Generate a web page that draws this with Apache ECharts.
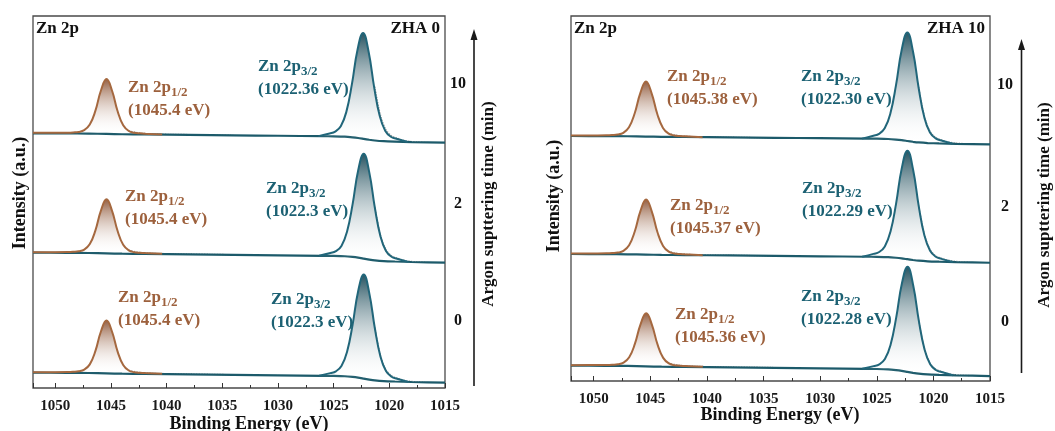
<!DOCTYPE html>
<html>
<head>
<meta charset="utf-8">
<script src="https://cdn.jsdelivr.net/npm/echarts@6/dist/echarts.min.js"></script>
<style>
  html, body { margin: 0; padding: 0; background: #ffffff; }
  #chart { width: 1055px; height: 431px; }
</style>
</head>
<body>
<div id="chart"></div>
<script>
// ---------------- data ----------------
const samples = ['ZHA 0', 'ZHA 10'];
const sputterTimes = ['0', '2', '10'];            // min, bottom to top
const energyTickLabels = [1050, 1045, 1040, 1035, 1030, 1025, 1020, 1015];

// Shirley background sampling energies (eV)
const bgEnergy = [1052, 1049, 1047, 1045.4, 1044, 1042, 1038, 1034, 1030, 1026, 1025,
                  1024, 1023.3, 1022.8, 1022.3, 1021.8, 1021.3, 1020.5, 1019.5, 1018, 1015];
// raw counts sampling energies (gap between the two recorded windows)
const rawEnergy = [1043.4, 1042.4, 1041, 1039.5, 1038, 1036, 1034, 1028,
                   1021.3, 1020.8, 1020.3, 1019.8, 1019.3, 1018.8, 1018.2, 1017.5, 1016.8];

// ---- ZHA 0, 0 min ----
const zha0_t0_bg = [0.1275, 0.1265, 0.125, 0.122, 0.119, 0.1177, 0.1137, 0.1097, 0.1057, 0.1017, 0.1007,
                    0.098, 0.092, 0.086, 0.078, 0.07, 0.0635, 0.0575, 0.054, 0.05, 0.044];
const zha0_t0_p12E = [1052, 1050, 1048.9, 1048.4, 1047.9, 1047.4, 1046.9, 1046.4, 1045.9, 1045.4,
                      1044.9, 1044.4, 1043.9, 1043.4, 1042.9, 1042.4, 1041.9, 1040.4];
const zha0_t0_p12 = [0.132, 0.132, 0.133, 0.135, 0.139, 0.153, 0.197, 0.307, 0.471, 0.562,
                     0.469, 0.303, 0.192, 0.146, 0.132, 0.127, 0.124, 0.118];
const zha0_t0_p32E = [1026.3, 1025.3, 1024.8, 1024.3, 1023.8, 1023.3, 1022.8, 1022.3,
                      1021.8, 1021.3, 1020.8, 1020.3, 1019.8, 1019.3, 1018.3];
const zha0_t0_p32 = [0.102, 0.124, 0.139, 0.183, 0.300, 0.526, 0.807, 0.945,
                     0.791, 0.498, 0.263, 0.141, 0.094, 0.077, 0.051];
const zha0_t0_raw = [0.148, 0.130, 0.121, 0.119, 0.117, 0.114, 0.111, '-',
                     0.505, 0.275, 0.152, 0.103, 0.083, 0.068, 0.057, 0.052, 0.048];

// ---- ZHA 0, 2 min ----
const zha0_t2_bg = [0.1275, 0.1265, 0.125, 0.122, 0.119, 0.1177, 0.1137, 0.1097, 0.1057, 0.1017, 0.1007,
                    0.098, 0.092, 0.086, 0.078, 0.07, 0.0635, 0.0575, 0.054, 0.05, 0.044];
const zha0_t2_p12E = [1052, 1050, 1048.9, 1048.4, 1047.9, 1047.4, 1046.9, 1046.4, 1045.9, 1045.4,
                      1044.9, 1044.4, 1043.9, 1043.4, 1042.9, 1042.4, 1041.9, 1040.4];
const zha0_t2_p12 = [0.132, 0.132, 0.133, 0.135, 0.139, 0.153, 0.199, 0.312, 0.478, 0.572,
                     0.476, 0.308, 0.193, 0.147, 0.132, 0.127, 0.124, 0.118];
const zha0_t2_p32E = [1026.3, 1025.3, 1024.8, 1024.3, 1023.8, 1023.3, 1022.8, 1022.3,
                      1021.8, 1021.3, 1020.8, 1020.3, 1019.8, 1019.3, 1018.3];
const zha0_t2_p32 = [0.102, 0.125, 0.140, 0.184, 0.302, 0.530, 0.813, 0.953,
                     0.797, 0.502, 0.265, 0.142, 0.094, 0.077, 0.051];
const zha0_t2_raw = [0.149, 0.130, 0.121, 0.119, 0.117, 0.114, 0.111, '-',
                     0.509, 0.277, 0.153, 0.103, 0.083, 0.068, 0.057, 0.052, 0.048];

// ---- ZHA 0, 10 min ----
const zha0_t10_bg = [0.1225, 0.1216, 0.1201, 0.1173, 0.1145, 0.1133, 0.1095, 0.1058, 0.102, 0.0982, 0.0973,
                     0.0948, 0.0891, 0.0835, 0.076, 0.0685, 0.0623, 0.0567, 0.0534, 0.0496, 0.044];
const zha0_t10_p12E = [1052, 1050, 1048.9, 1048.4, 1047.9, 1047.4, 1046.9, 1046.4, 1045.9, 1045.4,
                       1044.9, 1044.4, 1043.9, 1043.4, 1042.9, 1042.4, 1041.9, 1040.4];
const zha0_t10_p12 = [0.127, 0.127, 0.128, 0.130, 0.134, 0.149, 0.195, 0.309, 0.479, 0.574,
                      0.477, 0.306, 0.189, 0.142, 0.127, 0.122, 0.119, 0.113];
const zha0_t10_p32E = [1026.36, 1025.36, 1024.86, 1024.36, 1023.86, 1023.36, 1022.86, 1022.36,
                       1021.86, 1021.36, 1020.86, 1020.36, 1019.86, 1019.36, 1018.36];
const zha0_t10_p32 = [0.099, 0.121, 0.137, 0.181, 0.301, 0.532, 0.817, 0.959,
                      0.802, 0.505, 0.266, 0.142, 0.094, 0.077, 0.050];
const zha0_t10_raw = [0.144, 0.125, 0.116, 0.114, 0.112, 0.109, 0.106, '-',
                      0.511, 0.278, 0.153, 0.103, 0.083, 0.067, 0.056, 0.051, 0.047];

// ---- ZHA 10, 0 min ----
const zha10_t0_bg = [0.13, 0.1289, 0.1274, 0.1242, 0.121, 0.1197, 0.1155, 0.1112, 0.107, 0.1028, 0.1018,
                     0.0989, 0.0926, 0.0863, 0.0778, 0.0694, 0.0625, 0.0562, 0.0525, 0.0483, 0.042];
const zha10_t0_p12E = [1052, 1050, 1048.86, 1048.36, 1047.86, 1047.36, 1046.86, 1046.36, 1045.86, 1045.36,
                       1044.86, 1044.36, 1043.86, 1043.36, 1042.86, 1042.36, 1041.86, 1040.36];
const zha10_t0_p12 = [0.134, 0.135, 0.136, 0.138, 0.142, 0.156, 0.201, 0.314, 0.480, 0.574,
                      0.478, 0.310, 0.196, 0.149, 0.134, 0.130, 0.127, 0.120];
const zha10_t0_p32E = [1026.28, 1025.28, 1024.78, 1024.28, 1023.78, 1023.28, 1022.78, 1022.28,
                       1021.78, 1021.28, 1020.78, 1020.28, 1019.78, 1019.28, 1018.28];
const zha10_t0_p32 = [0.103, 0.126, 0.141, 0.186, 0.307, 0.539, 0.826, 0.968,
                      0.809, 0.508, 0.267, 0.142, 0.093, 0.076, 0.049];
const zha10_t0_raw = [0.151, 0.133, 0.124, 0.122, 0.119, 0.117, 0.114, '-',
                      0.515, 0.279, 0.153, 0.102, 0.082, 0.066, 0.055, 0.05, 0.046];

// ---- ZHA 10, 2 min ----
const zha10_t2_bg = [0.076, 0.0751, 0.0738, 0.0711, 0.0685, 0.0673, 0.0638, 0.0602, 0.0567, 0.0531, 0.0523,
                     0.0499, 0.0445, 0.0392, 0.0321, 0.0251, 0.0193, 0.014, 0.0109, 0.0073, 0.002];
const zha10_t2_p12E = [1052, 1050, 1048.87, 1048.37, 1047.87, 1047.37, 1046.87, 1046.37, 1045.87, 1045.37,
                       1044.87, 1044.37, 1043.87, 1043.37, 1042.87, 1042.37, 1041.87, 1040.37];
const zha10_t2_p12 = [0.080, 0.081, 0.082, 0.084, 0.088, 0.103, 0.150, 0.267, 0.440, 0.537,
                      0.438, 0.263, 0.144, 0.096, 0.081, 0.076, 0.073, 0.066];
const zha10_t2_p32E = [1026.29, 1025.29, 1024.79, 1024.29, 1023.79, 1023.29, 1022.79, 1022.29,
                       1021.79, 1021.29, 1020.79, 1020.29, 1019.79, 1019.29, 1018.29];
const zha10_t2_p32 = [0.053, 0.077, 0.093, 0.140, 0.265, 0.505, 0.804, 0.952,
                      0.790, 0.480, 0.232, 0.103, 0.053, 0.035, 0.008];
const zha10_t2_raw = [0.098, 0.079, 0.07, 0.068, 0.066, 0.063, 0.06, '-',
                      0.487, 0.244, 0.114, 0.062, 0.041, 0.026, 0.016, 0.01, 0.006];

// ---- ZHA 10, 10 min ----
const zha10_t10_bg = [0.076, 0.0751, 0.0739, 0.0713, 0.0688, 0.0677, 0.0643, 0.0609, 0.0575, 0.0541, 0.0532,
                      0.0509, 0.0458, 0.0407, 0.0339, 0.0271, 0.0216, 0.0165, 0.0135, 0.0101, 0.005];
const zha10_t10_p12E = [1052, 1050, 1048.88, 1048.38, 1047.88, 1047.38, 1046.88, 1046.38, 1045.88, 1045.38,
                        1044.88, 1044.38, 1043.88, 1043.38, 1042.88, 1042.38, 1041.88, 1040.38];
const zha10_t10_p12 = [0.080, 0.081, 0.082, 0.084, 0.088, 0.103, 0.150, 0.267, 0.440, 0.537,
                       0.438, 0.263, 0.144, 0.096, 0.081, 0.076, 0.073, 0.066];
const zha10_t10_p32E = [1026.3, 1025.3, 1024.8, 1024.3, 1023.8, 1023.3, 1022.8, 1022.3,
                        1021.8, 1021.3, 1020.8, 1020.3, 1019.8, 1019.3, 1018.3];
const zha10_t10_p32 = [0.054, 0.078, 0.094, 0.141, 0.266, 0.507, 0.805, 0.954,
                       0.792, 0.483, 0.234, 0.105, 0.056, 0.038, 0.011];
const zha10_t10_raw = [0.098, 0.079, 0.07, 0.068, 0.066, 0.063, 0.06, '-',
                       0.49, 0.246, 0.116, 0.065, 0.044, 0.029, 0.019, 0.013, 0.009];

// ---------------- styling ----------------
const SERIF = '"Liberation Serif", "Times New Roman", serif';
const BROWN = '#a5683f';
const TEAL = '#21667a';
const TEAL_BG = '#1c5a6a';
const BROWN_TXT = '#9d613d';
const TEAL_TXT = '#1c6173';
const ROW_STEP = 1.0;   // vertical stacking step between sputtering times

const panels = [
  {
    sample: samples[0],
    grid: { left: 33, top: 16, width: 412, height: 372 },
    yMax: 3.1,
    fmt: v => String(v),
    spectra: [
      { bg: zha0_t0_bg, p12E: zha0_t0_p12E, p12: zha0_t0_p12, p32E: zha0_t0_p32E, p32: zha0_t0_p32, raw: zha0_t0_raw },
      { bg: zha0_t2_bg, p12E: zha0_t2_p12E, p12: zha0_t2_p12, p32E: zha0_t2_p32E, p32: zha0_t2_p32, raw: zha0_t2_raw },
      { bg: zha0_t10_bg, p12E: zha0_t10_p12E, p12: zha0_t10_p12, p32E: zha0_t10_p32E, p32: zha0_t10_p32, raw: zha0_t10_raw }
    ],
    lbl12: [[118, 309], [125, 208], [128, 99]],
    lbl32: [[271, 311], [266, 200], [258, 78]],
    timeX: 458, timeY: [321, 204, 84],
    arrowX: 474, arrowTop: 29, arrowBottom: 386,
    argonX: 489, argonY: 204,
    intensityX: 20, intensityY: 193,
    xTitle: [249, 424],
    cornerRight: 440, cornerLeft: 36
  },
  {
    sample: samples[1],
    grid: { left: 571, top: 16, width: 419, height: 365 },
    yMax: 3.093,
    fmt: v => v.toFixed(2),
    spectra: [
      { bg: zha10_t0_bg, p12E: zha10_t0_p12E, p12: zha10_t0_p12, p32E: zha10_t0_p32E, p32: zha10_t0_p32, raw: zha10_t0_raw },
      { bg: zha10_t2_bg, p12E: zha10_t2_p12E, p12: zha10_t2_p12, p32E: zha10_t2_p32E, p32: zha10_t2_p32, raw: zha10_t2_raw },
      { bg: zha10_t10_bg, p12E: zha10_t10_p12E, p12: zha10_t10_p12, p32E: zha10_t10_p32E, p32: zha10_t10_p32, raw: zha10_t10_raw }
    ],
    lbl12: [[675, 326], [670, 217], [667, 88]],
    lbl32: [[801, 308], [802, 200], [801, 88]],
    timeX: 1005, timeY: [322, 207, 85],
    arrowX: 1021.5, arrowTop: 39, arrowBottom: 373,
    argonX: 1045, argonY: 205,
    intensityX: 554, intensityY: 196,
    xTitle: [780, 415],
    cornerRight: 985, cornerLeft: 574
  }
];

function pairs(xs, ys, off) {
  return xs.map((x, i) => [x, ys[i] === '-' ? '-' : +(ys[i] + off).toFixed(4)]);
}
function apexEnergy(es, vs) {
  let k = 0;
  vs.forEach((v, i) => { if (v > vs[k]) k = i; });
  return es[k];
}
function fade(top) {
  return new echarts.graphic.LinearGradient(0, 0, 0, 1, [
    { offset: 0, color: top },
    { offset: 1, color: 'rgba(255,255,255,0)' }
  ]);
}

const grids = [], xAxes = [], yAxes = [], series = [], graphics = [];

const richStyles = {
  m: { fontSize: 17, fontWeight: 'bold', fontFamily: SERIF, lineHeight: 23, verticalAlign: 'middle' },
  s: { fontSize: 13, fontWeight: 'bold', fontFamily: SERIF, lineHeight: 19, verticalAlign: 'bottom' }
};
function peakText(x, y, sub, energy, color) {
  return {
    type: 'text', x: x, y: y, silent: true, z: 50,
    style: {
      text: '{m|Zn 2p}{s|' + sub + '}\n{m|(' + energy + ' eV)}',
      rich: richStyles, fill: color,
      align: 'left', verticalAlign: 'middle', textAlign: 'left', textVerticalAlign: 'middle'
    }
  };
}
function plainText(x, y, text, size, align, rotation) {
  return {
    type: 'text', x: x, y: y, rotation: rotation || 0, silent: true, z: 50,
    style: {
      text: text, fill: '#111', font: 'bold ' + size + 'px ' + SERIF,
      align: align, verticalAlign: 'middle', textAlign: align, textVerticalAlign: 'middle'
    }
  };
}

panels.forEach((p, pi) => {
  grids.push(Object.assign({ show: true, borderColor: '#4a4a4a', borderWidth: 1.3, backgroundColor: 'transparent' }, p.grid));
  xAxes.push({
    gridIndex: pi, type: 'value', min: 1015, max: 1052, interval: 5, inverse: true,
    axisLine: { show: false },
    axisTick: { show: true, inside: true, length: 5, lineStyle: { color: '#333', width: 1 } },
    minorTick: { show: true, splitNumber: 2, length: 3, lineStyle: { color: '#333', width: 1 } },
    splitLine: { show: false }, minorSplitLine: { show: false },
    axisLabel: {
      margin: 11, color: '#1a1a1a', fontFamily: SERIF, fontWeight: 'bold', fontSize: 15,
      formatter: v => (energyTickLabels.indexOf(v) >= 0 ? String(v) : '')
    }
  });
  yAxes.push({ gridIndex: pi, type: 'value', min: 0, max: p.yMax, show: false, splitLine: { show: false } });

  p.spectra.forEach((s, slot) => {
    const off = slot * ROW_STEP;
    const common = { xAxisIndex: pi, yAxisIndex: pi, showSymbol: false, silent: true, animation: false };
    series.push(Object.assign({
      type: 'line', data: pairs(rawEnergy, s.raw, off), smooth: 0.3, connectNulls: false, z: 1,
      lineStyle: { color: '#a0a0a0', width: 1.3, type: 'dotted' }
    }, common));
    series.push(Object.assign({
      type: 'line', data: pairs(bgEnergy, s.bg, off), smooth: 0.2, z: 2,
      lineStyle: { color: TEAL_BG, width: 2.2 }
    }, common));
    const o12 = Math.min(s.p12[0], s.p12[s.p12.length - 1]) + off;
    series.push(Object.assign({
      type: 'line', data: pairs(s.p12E, s.p12, off), smooth: 0.45, z: 3,
      lineStyle: { color: BROWN, width: 2 },
      areaStyle: { origin: o12, color: fade('rgba(143,88,58,0.95)'), opacity: 1 }
    }, common));
    const o32 = Math.min(s.p32[0], s.p32[s.p32.length - 1]) + off;
    series.push(Object.assign({
      type: 'line', data: pairs(s.p32E, s.p32, off), smooth: 0.45, z: 4,
      lineStyle: { color: TEAL, width: 2 },
      areaStyle: { origin: o32, color: fade('rgba(32,78,92,0.97)'), opacity: 1 }
    }, common));

    const e12 = p.fmt(apexEnergy(s.p12E, s.p12));
    const e32 = p.fmt(apexEnergy(s.p32E, s.p32));
    graphics.push(peakText(p.lbl12[slot][0], p.lbl12[slot][1], '1/2', e12, BROWN_TXT));
    graphics.push(peakText(p.lbl32[slot][0], p.lbl32[slot][1], '3/2', e32, TEAL_TXT));
    graphics.push(plainText(p.timeX, p.timeY[slot], sputterTimes[slot], 16, 'center'));
  });

  // corner captions
  graphics.push(plainText(p.cornerLeft, 29, 'Zn 2p', 17, 'left'));
  graphics.push(plainText(p.cornerRight, 29, p.sample, 17, 'right'));
  // axis titles
  graphics.push(plainText(p.xTitle[0], p.xTitle[1], 'Binding Energy (eV)', 18, 'center'));
  graphics.push(plainText(p.intensityX, p.intensityY, 'Intensity (a.u.)', 18, 'center', Math.PI / 2));
  graphics.push(plainText(p.argonX, p.argonY, 'Argon supttering time (min)', 17, 'center', Math.PI / 2));
  // sputtering-time arrow
  graphics.push({
    type: 'line', silent: true, z: 50,
    shape: { x1: p.arrowX, y1: p.arrowBottom, x2: p.arrowX, y2: p.arrowTop + 8 },
    style: { stroke: '#1a1a1a', lineWidth: 1.6 }
  });
  graphics.push({
    type: 'polygon', silent: true, z: 50,
    shape: { points: [[p.arrowX - 3.5, p.arrowTop + 11], [p.arrowX, p.arrowTop], [p.arrowX + 3.5, p.arrowTop + 11]] },
    style: { fill: '#1a1a1a' }
  });
});

const chart = echarts.init(document.getElementById('chart'), null, { renderer: 'canvas', width: 1055, height: 431 });
chart.setOption({
  backgroundColor: '#ffffff',
  animation: false,
  grid: grids,
  xAxis: xAxes,
  yAxis: yAxes,
  series: series,
  graphic: graphics
});
</script>
</body>
</html>
